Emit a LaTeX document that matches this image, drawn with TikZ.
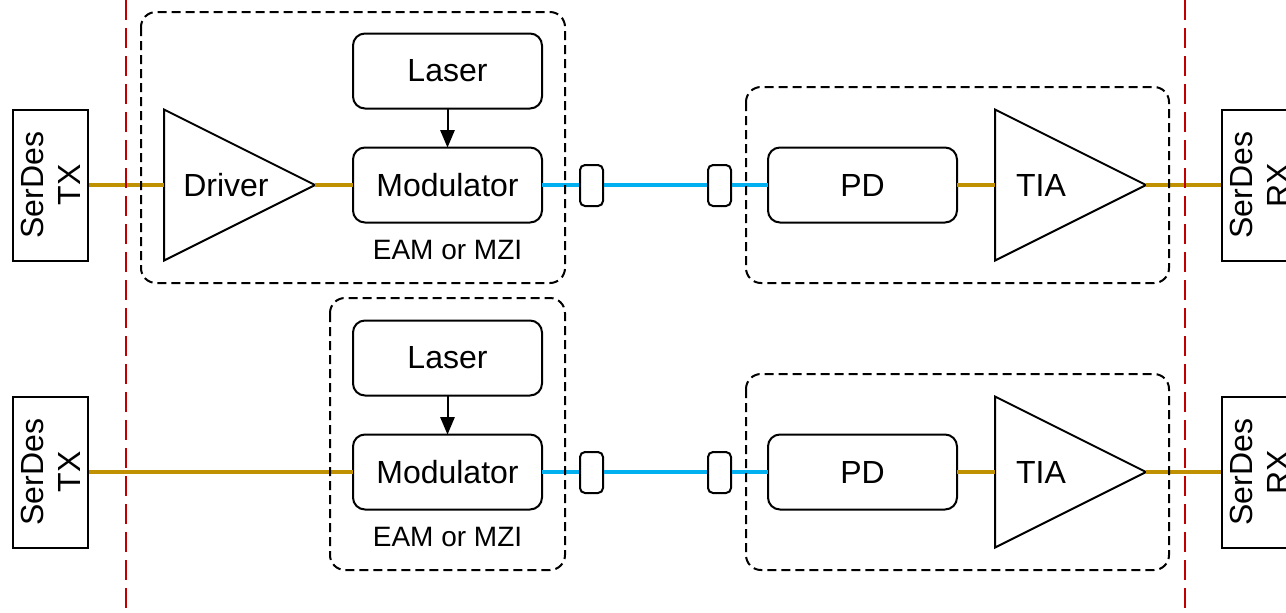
\documentclass[tikz,border=0pt]{standalone}
\usepackage{fontspec}
\setmainfont{Liberation Sans}
\usetikzlibrary{positioning,arrows,shapes}
\definecolor{elecgold}{HTML}{BF9000}
\definecolor{fiberblue}{HTML}{00B0F0}
\definecolor{borderred}{HTML}{C00000}
\tikzset{
  block/.style={draw=black, line width=1pt, rounded corners=6pt, minimum width=94.5pt,
    minimum height=37.5pt, inner sep=0pt, outer sep=0pt, font=\fontsize{16}{19}\selectfont},
  serdes/.style={draw=black, line width=1pt, rotate=90, minimum width=75.5pt,
    minimum height=37.5pt, inner sep=0pt, align=center, font=\fontsize{16}{18.5}\selectfont},
  amp/.style={draw=black, line width=1pt, isosceles triangle, isosceles triangle stretches,
    minimum width=75.5pt, minimum height=75.5pt, inner sep=0pt, outer sep=0pt},
  amptext/.style={inner sep=0pt, font=\fontsize{16}{19}\selectfont},
  plug/.style={draw=black, line width=1pt, rounded corners=2.5pt, minimum width=11.5pt,
    minimum height=20.5pt, inner sep=0pt},
  note/.style={inner sep=0pt, font=\fontsize{14}{16}\selectfont},
  elec/.style={draw=elecgold, line width=2pt},
  fiber/.style={draw=fiberblue, line width=2pt},
  group/.style={draw=black, line width=1pt, dash pattern=on 4.5pt off 2.5pt, rounded corners=7.5pt},
  border/.style={draw=borderred, line width=1pt, dash pattern=on 10pt off 4pt}
}
\begin{document}
\begin{tikzpicture}[x=0.5pt, y=-0.5pt, >=triangle 45]
    \useasboundingbox (0,0) rectangle (1286,612);

    % upper link: driver + modulator
    \node[serdes] (tx1) at (50.5,185) {SerDes\\TX};
    \node[amp, anchor=apex] (drv1) at (315,185) {};
    \node[amptext] (drvtxt1) at (226,185) {Driver};
    \node[block] (mod1) at (447.5,185) {Modulator};
    \node[block, above=19.5pt of mod1] (las1) {Laser};
    \node[note, below=8.5pt of mod1] (eam1) {EAM or MZI};
    \node[plug] (pa1) at (591.5,185.5) {};
    \node[plug] (pb1) at (719.5,185.5) {};
    \node[block] (pd1) at (862.5,185) {PD};
    \node[amp, anchor=lower side] (tia1) at (995,185) {};
    \node[amptext] (tiatxt1) at (1041,185) {TIA};
    \node[serdes] (rx1) at (1259.5,185) {SerDes\\RX};

    \draw[elec]  (tx1) -- (drv1.lower side);
    \draw[elec]  (drv1.apex) -- (mod1.west);
    \draw[fiber] (mod1.east) -- (pa1.west |- mod1.east);
    \draw[fiber] (pa1.east |- mod1.east) -- (pb1.west |- mod1.east);
    \draw[fiber] (pb1.east |- mod1.east) -- (pd1.west);
    \draw[elec]  (pd1.east) -- (tia1.lower side);
    \draw[elec]  (tia1.apex) -- (rx1);
    \draw[->, line width=1pt] (las1) -- (mod1);

    \draw[group] (141,12) rectangle (565,283);
    \draw[group] (746,87) rectangle (1169,283);

    % lower link: direct drive
    \node[serdes] (tx2) at (50.5,472) {SerDes\\TX};
    \node[block] (mod2) at (447.5,472) {Modulator};
    \node[block, above=19.5pt of mod2] (las2) {Laser};
    \node[note, below=8.5pt of mod2] (eam2) {EAM or MZI};
    \node[plug] (pa2) at (591.5,472.5) {};
    \node[plug] (pb2) at (719.5,472.5) {};
    \node[block] (pd2) at (862.5,472) {PD};
    \node[amp, anchor=lower side] (tia2) at (995,472) {};
    \node[amptext] (tiatxt2) at (1041,472) {TIA};
    \node[serdes] (rx2) at (1259.5,472) {SerDes\\RX};

    \draw[elec]  (tx2) -- (mod2.west);
    \draw[fiber] (mod2.east) -- (pa2.west |- mod2.east);
    \draw[fiber] (pa2.east |- mod2.east) -- (pb2.west |- mod2.east);
    \draw[fiber] (pb2.east |- mod2.east) -- (pd2.west);
    \draw[elec]  (pd2.east) -- (tia2.lower side);
    \draw[elec]  (tia2.apex) -- (rx2);
    \draw[->, line width=1pt] (las2) -- (mod2);

    \draw[group] (330,298) rectangle (565,570);
    \draw[group] (746,374) rectangle (1169,570);

    % package borders
    \draw[border] (126,0) -- (126,612);
    \draw[border] (1185,0) -- (1185,612);
  \end{tikzpicture}
\end{document}
